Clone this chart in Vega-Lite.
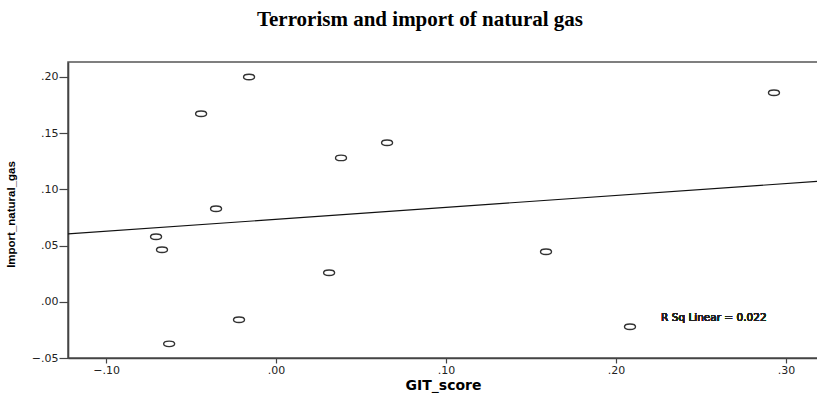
{
  "$schema": "https://vega.github.io/schema/vega-lite/v6.json",
  "width": 750,
  "height": 296,
  "autosize": {"type": "none"},
  "padding": {"left": 68, "top": 62, "right": 0, "bottom": 35},
  "background": "white",
  "title": {
    "text": "Terrorism and import of natural gas",
    "font": "Liberation Serif",
    "fontSize": 21,
    "fontWeight": "bold",
    "color": "#000000",
    "anchor": "middle",
    "offset": 32,
    "dx": -23
  },
  "config": {
    "view": {"stroke": "#555555", "strokeWidth": 1.5},
    "axis": {
      "grid": false,
      "domainColor": "#444444",
      "domainWidth": 1.6,
      "tickColor": "#444444",
      "tickWidth": 1.2,
      "labelFont": "DejaVu Sans",
      "labelFontSize": 11,
      "labelColor": "#222222",
      "titleColor": "#000000",
      "titleFontWeight": "bold"
    }
  },
  "data": {
    "values": [
      {"git": -0.0159, "gas": 0.2000},
      {"git": -0.0441, "gas": 0.1673},
      {"git": -0.0353, "gas": 0.0827},
      {"git": -0.0706, "gas": 0.0578},
      {"git": -0.0671, "gas": 0.0463},
      {"git": -0.0629, "gas": -0.0374},
      {"git": -0.0218, "gas": -0.0160},
      {"git": 0.0312, "gas": 0.0258},
      {"git": 0.0382, "gas": 0.1280},
      {"git": 0.0653, "gas": 0.1415},
      {"git": 0.1588, "gas": 0.0445},
      {"git": 0.2082, "gas": -0.0222},
      {"git": 0.2929, "gas": 0.1860}
    ]
  },
  "encoding": {
    "x": {
      "field": "git",
      "type": "quantitative",
      "scale": {"domain": [-0.1224, 0.3188], "nice": false, "zero": false},
      "axis": {
        "title": "GIT_score",
        "titleFont": "DejaVu Sans",
        "titleFontSize": 14,
        "titleBaseline": "alphabetic",
        "titleY": 31,
        "tickSize": 5,
        "values": [-0.1, 0, 0.1, 0.2, 0.3],
        "labelExpr": "replace(format(datum.value, '.2f'), '0.', '.')",
        "labelPadding": 1
      }
    },
    "y": {
      "field": "gas",
      "type": "quantitative",
      "scale": {"domain": [-0.05, 0.2133], "nice": false, "zero": false},
      "axis": {
        "title": "Import_natural_gas",
        "titleFont": "Liberation Sans Narrow, Liberation Sans",
        "titleFontSize": 11.5,
        "titleX": -52,
        "titleY": 152,
        "titleBaseline": "bottom",
        "tickSize": 9,
        "values": [-0.05, 0, 0.05, 0.1, 0.15, 0.2],
        "labelExpr": "replace(format(datum.value, '.2f'), '0.', '.')",
        "labelPadding": 1
      }
    }
  },
  "layer": [
    {
      "mark": {
        "type": "point",
        "shape": "M-1,0A1,0.5 0 1,0 1,0A1,0.5 0 1,0 -1,0Z",
        "filled": false,
        "stroke": "#333333",
        "strokeWidth": 1.4,
        "size": 121,
        "opacity": 1
      }
    },
    {
      "transform": [
        {"regression": "gas", "on": "git", "extent": [-0.1224, 0.3188]}
      ],
      "mark": {"type": "line", "color": "#111111", "strokeWidth": 1.1, "clip": true}
    },
    {
      "mark": {
        "type": "text",
        "text": "R Sq Linear = 0.022",
        "font": "DejaVu Sans",
        "fontSize": 10.5,
        "align": "left",
        "baseline": "middle",
        "color": "#222222"
      },
      "encoding": {
        "x": {"datum": 0.2265},
        "y": {"datum": -0.014}
      }
    }
  ]
}
